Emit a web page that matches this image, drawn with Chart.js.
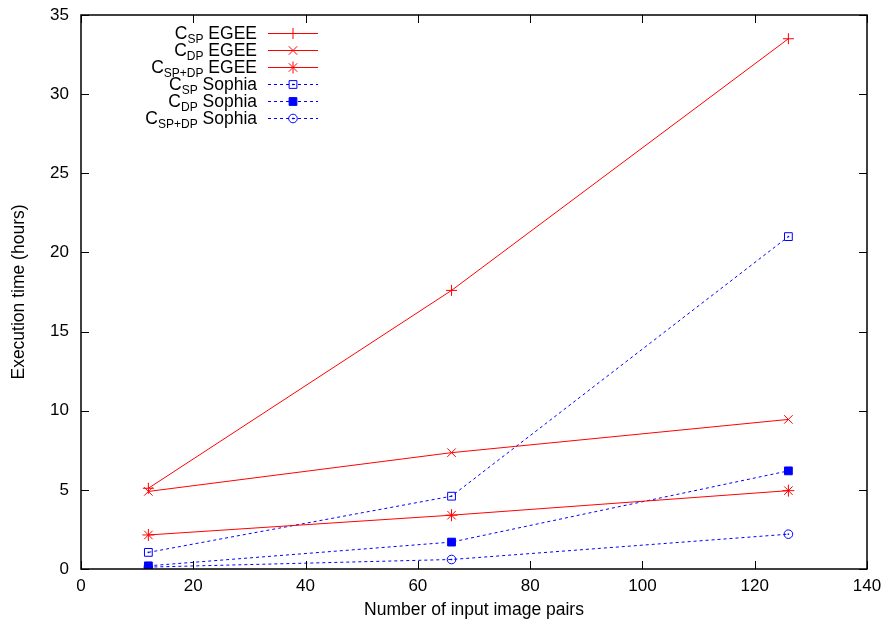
<!DOCTYPE html>
<html>
<head>
<meta charset="utf-8">
<script src="https://cdn.jsdelivr.net/npm/chart.js@4/dist/chart.umd.min.js"></script>
<style>
  html, body { margin: 0; padding: 0; background: #fff; }
  #wrap { width: 890px; height: 630px; }
</style>
</head>
<body>
<div id="wrap"><canvas id="chart" width="890" height="630"></canvas></div>
<script>
// data
const pairs = [12, 66, 126];
const spEgee = [5.1, 17.6, 33.5];
const dpEgee = [4.9, 7.35, 9.45];
const spdpEgee = [2.15, 3.4, 4.95];
const spSophia = [1.05, 4.6, 21.0];
const dpSophia = [0.2, 1.7, 6.2];
const spdpSophia = [0.12, 0.6, 2.2];

const xTicks = [0, 20, 40, 60, 80, 100, 120, 140];
const yTicks = [0, 5, 10, 15, 20, 25, 30, 35];

const FONT = "'Liberation Sans', Arial, Helvetica, sans-serif";
const RED = "#ff0000";
const BLUE = "#0000ff";

function pts(values) {
  return values.map((v, i) => ({ x: pairs[i], y: v }));
}

function series(label, sub, values, color, style, radius, filled, dashed, dot) {
  return {
    label: label,
    sub: sub,
    data: pts(values),
    borderColor: color,
    backgroundColor: filled ? color : "rgba(0,0,0,0)",
    pointBorderColor: color,
    pointBackgroundColor: filled ? color : "rgba(0,0,0,0)",
    pointStyle: style,
    pointRadius: radius,
    pointHoverRadius: radius,
    pointBorderWidth: 1,
    borderWidth: 1,
    borderDash: dashed ? [3, 3] : [],
    centerDot: dot,
    fill: false,
    tension: 0,
  };
}

const datasets = [
  series("EGEE", "SP", spEgee, RED, "cross", 5.5, false, false, false),
  series("EGEE", "DP", dpEgee, RED, "crossRot", 6, false, false, false),
  series("EGEE", "SP+DP", spdpEgee, RED, "star", 6, false, false, false),
  series("Sophia", "SP", spSophia, BLUE, "rect", 5.5, false, true, true),
  series("Sophia", "DP", dpSophia, BLUE, "rect", 5.5, true, true, false),
  series("Sophia", "SP+DP", spdpSophia, BLUE, "circle", 4.3, false, true, true),
];

// box round the plot and inward ticks on all four sides (gnuplot look)
const frame = {
  id: "frame",
  afterDatasetsDraw(chart) {
    const ctx = chart.ctx;
    const a = chart.chartArea;
    const xs = chart.scales.x;
    const ys = chart.scales.y;
    ctx.save();

    // centre dots for open square / circle
    chart.data.datasets.forEach((ds, i) => {
      if (!ds.centerDot) return;
      chart.getDatasetMeta(i).data.forEach((p) => {
        ctx.fillStyle = ds.borderColor;
        ctx.fillRect(p.x - 0.75, p.y - 0.75, 1.5, 1.5);
      });
    });

    ctx.strokeStyle = "#000";
    ctx.lineWidth = 1;
    const len = 8;
    ctx.beginPath();
    xTicks.forEach((t) => {
      const x = Math.round(xs.getPixelForValue(t)) + 0.5;
      ctx.moveTo(x, a.bottom); ctx.lineTo(x, a.bottom - len);
      ctx.moveTo(x, a.top); ctx.lineTo(x, a.top + len);
    });
    yTicks.forEach((t) => {
      const y = Math.round(ys.getPixelForValue(t)) + 0.5;
      ctx.moveTo(a.left, y); ctx.lineTo(a.left + len, y);
      ctx.moveTo(a.right, y); ctx.lineTo(a.right - len, y);
    });
    ctx.stroke();

    ctx.lineWidth = 1.5;
    ctx.strokeRect(a.left, a.top, a.right - a.left, a.bottom - a.top);
    ctx.restore();
  },
};

// legend with subscripts (C_SP etc.), top left inside the plot
const subLegend = {
  id: "subLegend",
  afterDraw(chart) {
    const ctx = chart.ctx;
    const textRight = 257;
    const lineL = 268;
    const lineR = 318;
    const markX = 293;
    const top = 33;
    const step = 17;
    const big = "17.5px " + FONT;
    const small = "12px " + FONT;
    chart.data.datasets.forEach((ds, i) => {
      const y = Math.round(top + i * step) + 0.5;

      // sample line
      ctx.save();
      ctx.strokeStyle = ds.borderColor;
      ctx.lineWidth = 1;
      ctx.setLineDash(ds.borderDash);
      ctx.beginPath();
      ctx.moveTo(lineL, y);
      ctx.lineTo(lineR, y);
      ctx.stroke();
      ctx.restore();

      // marker
      ctx.save();
      ctx.setLineDash([]);
      ctx.strokeStyle = ds.borderColor;
      ctx.fillStyle = ds.pointBackgroundColor;
      ctx.lineWidth = 1;
      Chart.helpers.drawPoint(ctx, {
        pointStyle: ds.pointStyle,
        radius: ds.pointRadius,
        rotation: 0,
        borderWidth: 1,
      }, markX, y);
      if (ds.centerDot) {
        ctx.fillStyle = ds.borderColor;
        ctx.fillRect(markX - 0.75, y - 0.75, 1.5, 1.5);
      }
      ctx.restore();

      // label: C + subscript + name
      ctx.save();
      ctx.font = big;
      const wC = ctx.measureText("C").width;
      const wRest = ctx.measureText(" " + ds.label).width;
      ctx.font = small;
      const wSub = ctx.measureText(ds.sub).width;
      let x = textRight - (wC + wSub + wRest);
      ctx.fillStyle = "#000";
      ctx.textBaseline = "alphabetic";
      ctx.textAlign = "left";
      ctx.font = big;
      ctx.fillText("C", x, y + 5.5);
      x += wC;
      ctx.font = small;
      ctx.fillText(ds.sub, x, y + 9.5);
      x += wSub;
      ctx.font = big;
      ctx.fillText(" " + ds.label, x, y + 5.5);
      ctx.restore();
    });
  },
};

new Chart(document.getElementById("chart").getContext("2d"), {
  type: "line",
  data: { datasets },
  options: {
    responsive: false,
    animation: false,
    layout: { padding: { top: 15, right: 23, left: 0, bottom: 0 } },
    plugins: {
      legend: { display: false },
      tooltip: { enabled: false },
    },
    scales: {
      x: {
        type: "linear",
        min: 0,
        max: 140,
        afterBuildTicks: (s) => { s.ticks = xTicks.map((v) => ({ value: v })); },
        afterFit: (s) => { s.height = 61; s.paddingLeft = 0; s.paddingRight = 0; },
        grid: { display: false, drawTicks: false },
        border: { display: false },
        ticks: { color: "#000", font: { family: FONT, size: 17 }, padding: 7, maxRotation: 0 },
        title: {
          display: true,
          text: "Number of input image pairs",
          color: "#000",
          font: { family: FONT, size: 17.5 },
          padding: { top: 0, bottom: 9 },
        },
      },
      y: {
        min: 0,
        max: 35,
        afterBuildTicks: (s) => { s.ticks = yTicks.map((v) => ({ value: v })); },
        afterFit: (s) => { s.width = 81; s.paddingTop = 0; s.paddingBottom = 0; },
        grid: { display: false, drawTicks: false },
        border: { display: false },
        ticks: { color: "#000", font: { family: FONT, size: 17 }, padding: 12 },
        title: {
          display: true,
          text: "Execution time (hours)",
          color: "#000",
          font: { family: FONT, size: 17.5 },
          padding: { top: 9, bottom: 0 },
        },
      },
    },
  },
  plugins: [frame, subLegend],
});
</script>
</body>
</html>
